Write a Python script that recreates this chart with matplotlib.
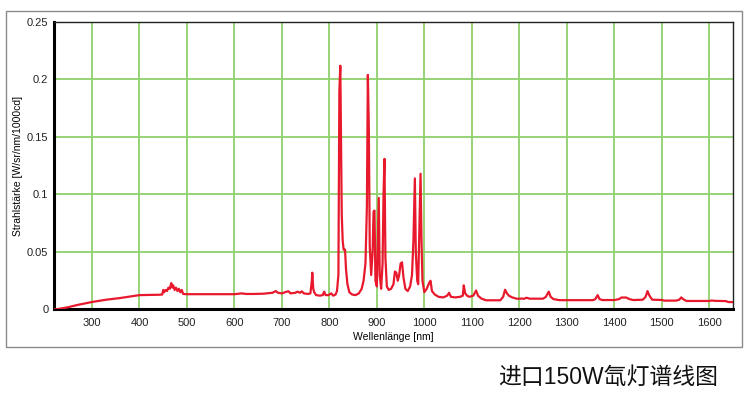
import matplotlib
matplotlib.use("Agg")
import matplotlib.pyplot as plt
from matplotlib.patches import Rectangle

plt.rcParams['font.family'] = ['Liberation Sans', 'Noto Sans CJK SC', 'DejaVu Sans']

# spectrum (wavelength nm, radiant intensity)
wavelength = [
    220, 230, 250, 270, 300, 330, 360, 400, 440, 448,
    450, 452, 455, 458, 461, 464, 467, 469, 471, 474, 477, 480, 483, 486, 489, 492, 500,
    600, 605, 615, 625, 640, 660, 680, 687, 692, 700, 710, 714, 718, 728, 733, 738, 742, 746,
    755, 760, 763, 764, 766, 768, 772, 780, 786, 789, 792, 798, 804, 808, 813, 816, 819,
    821, 823, 825, 826, 828, 830, 833, 835, 838, 842, 848, 855, 862, 868, 872, 876, 879,
    881, 883, 885, 888, 891, 893, 895, 897, 900, 902, 904, 906, 909, 912, 914, 916, 918,
    921, 925, 930, 935, 938, 941, 944, 947, 950, 953, 956, 960, 965, 970, 974, 977, 980,
    982, 985, 987, 989, 992, 994, 996, 1000, 1005, 1010, 1013, 1016, 1022, 1030, 1040,
    1048, 1052, 1056, 1065, 1075, 1081, 1083, 1086, 1090, 1095, 1103, 1109, 1113, 1120,
    1130, 1160, 1166, 1170, 1174, 1178, 1185, 1195, 1205, 1210, 1215, 1222, 1250, 1256,
    1262, 1266, 1272, 1285, 1355, 1360, 1365, 1369, 1375, 1400, 1410, 1415, 1425, 1432,
    1440, 1460, 1466, 1470, 1474, 1480, 1500, 1505, 1530, 1537, 1541, 1545, 1552, 1600,
    1605, 1612, 1635, 1640, 1650,
]
intensity = [
    0.0, 0.0005, 0.002, 0.004, 0.0065, 0.0085, 0.010, 0.0125, 0.0128, 0.013,
    0.017, 0.015, 0.017, 0.016, 0.019, 0.018, 0.023, 0.019, 0.021, 0.017, 0.019, 0.016, 0.018, 0.015, 0.017, 0.0135, 0.0133,
    0.0133, 0.0135, 0.014, 0.0135, 0.0135, 0.0137, 0.0145, 0.016, 0.0145, 0.014, 0.0155, 0.0158, 0.014, 0.0145, 0.0155, 0.0145, 0.0158, 0.014,
    0.0135, 0.014, 0.025, 0.032, 0.018, 0.015, 0.0125, 0.012, 0.0125, 0.0155, 0.0125, 0.0125, 0.014, 0.012, 0.013, 0.016, 0.03,
    0.19, 0.212, 0.13, 0.083, 0.06, 0.052, 0.052, 0.035, 0.022, 0.015, 0.013, 0.0125, 0.014, 0.018, 0.025, 0.04, 0.09,
    0.204, 0.16, 0.055, 0.03, 0.05, 0.085, 0.086, 0.025, 0.02, 0.06, 0.097, 0.03, 0.018, 0.04, 0.1, 0.131, 0.045,
    0.02, 0.017, 0.018, 0.022, 0.033, 0.032, 0.025, 0.03, 0.04, 0.041, 0.028, 0.018, 0.016, 0.02, 0.03, 0.06, 0.114,
    0.05, 0.025, 0.022, 0.06, 0.118, 0.06, 0.025, 0.015, 0.018, 0.023, 0.025, 0.016, 0.013, 0.011, 0.0105,
    0.012, 0.0145, 0.011, 0.0105, 0.011, 0.012, 0.021, 0.014, 0.012, 0.011, 0.012, 0.0165, 0.012, 0.0095,
    0.008, 0.008, 0.011, 0.0172, 0.014, 0.012, 0.0105, 0.0093, 0.0095, 0.0093, 0.0102, 0.0094, 0.0094, 0.011,
    0.0155, 0.011, 0.009, 0.0081, 0.0081, 0.009, 0.0125, 0.009, 0.0082, 0.0082, 0.009, 0.0104, 0.0104, 0.009,
    0.0082, 0.0085, 0.011, 0.016, 0.012, 0.0085, 0.0083, 0.0077, 0.0077, 0.0085, 0.0105, 0.009, 0.0074, 0.0074,
    0.0078, 0.0075, 0.0073, 0.0065, 0.0064,
]

x_ticks = list(range(300, 1700, 100))
y_ticks = [0, 0.05, 0.1, 0.15, 0.2, 0.25]
y_tick_labels = ["0", "0.05", "0.1", "0.15", "0.2", "0.25"]

fig = plt.figure(figsize=(7.5, 4.11), dpi=100)

# grey frame around the chart
fig.patches.append(Rectangle((6 / 750, 1 - 347 / 411), 736 / 750, 336 / 411,
                             transform=fig.transFigure, fill=False,
                             edgecolor="#8a8a8a", linewidth=1.0))

ax = fig.add_axes([0.072, 0.247, 0.9053, 0.6995])
ax.plot(wavelength, intensity, color="#e8192c", linewidth=1.6, zorder=3)

ax.set_xlim(220, 1650)
ax.set_ylim(0, 0.25)
ax.set_xticks(x_ticks)
ax.set_yticks(y_ticks)
ax.set_yticklabels(y_tick_labels)
ax.tick_params(length=0, labelsize=8, colors="#222222")
ax.tick_params(axis="x", pad=6)
ax.tick_params(axis="y", pad=4)
ax.grid(True, color="#8fd16a", linewidth=1.3)
ax.set_axisbelow(True)

for side in ["left", "bottom"]:
    ax.spines[side].set_linewidth(2.2)
    ax.spines[side].set_color("black")
for side in ["top", "right"]:
    ax.spines[side].set_linewidth(1.0)
    ax.spines[side].set_color("#222222")

ax.set_xlabel("Wellenlänge [nm]", fontsize=7.5, labelpad=3)
ax.set_ylabel("Strahlstärke [W/sr/nm/1000cd]", fontsize=7.5)
ax.yaxis.set_label_coords(-0.045, 0.5)

fig.text(608 / 750, 1 - 377 / 411, "进口150W氙灯谱线图", fontsize=16.5,
         ha="center", va="center", color="#111111",
         family=['Liberation Sans', 'Noto Sans CJK SC'])

fig.savefig("out.png", dpi=100)
